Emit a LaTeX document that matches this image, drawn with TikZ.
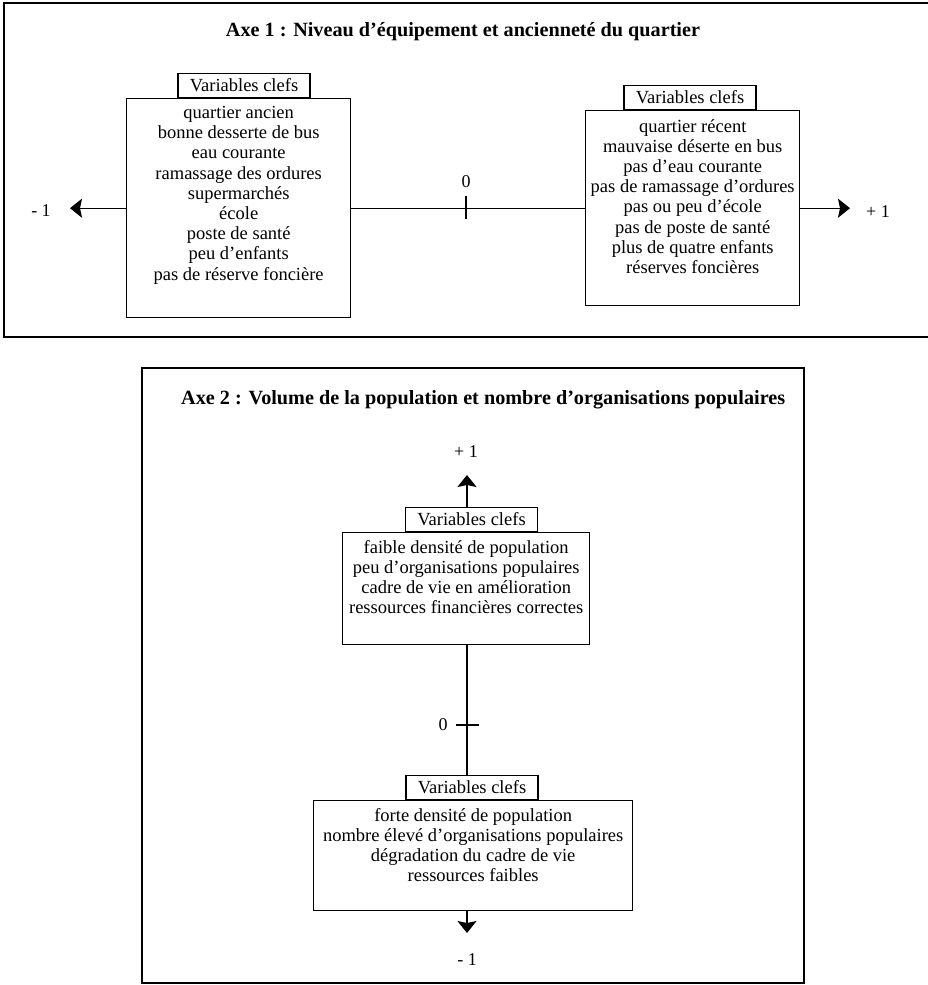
\documentclass[tikz,border=0pt]{standalone}
\usepackage{fontspec}
\setmainfont{Liberation Serif}
\usetikzlibrary{arrows.meta}
\begin{document}
\begin{tikzpicture}[x=1pt,y=-1pt,
  frame/.style={draw, line width=1.6pt},
  keybox/.style={draw, line width=1.4pt, inner sep=0pt},
  tagbox/.style={draw, line width=1.4pt, inner sep=0pt, minimum width=132pt, minimum height=24pt, font=\fontsize{18.5}{20.2}\selectfont},
  lines/.style={align=center, inner sep=0pt, font=\fontsize{18.5}{20.2}\selectfont},
  lbl/.style={inner sep=0pt, font=\fontsize{18}{20}\selectfont},
  axis/.style={line width=1.4pt},
  arr/.style={line width=1.4pt, -{Stealth[length=12pt,width=19pt,inset=2pt]}},
  title/.style={inner sep=0pt, font=\fontsize{20.2}{23}\selectfont\bfseries}
]
\useasboundingbox (0,0) rectangle (927,985);

% ---------- Axe 1 ----------
\draw[frame] (4,3) rectangle (945,337);
\node[title] (T1) at (463,32) {Axe 1 : Niveau d’équipement et ancienneté du quartier};

\node[keybox, minimum width=224pt, minimum height=219pt, anchor=north west] (L) at (126,98) {};
\node[tagbox, anchor=south] (Lk) at (244,98) {Variables clefs};
\node[lines, anchor=north] (Lt) at ([yshift=-8pt]L.north) {quartier ancien\\bonne desserte de bus\\eau courante\\ramassage des ordures\\supermarchés\\école\\poste de santé\\peu d’enfants\\pas de réserve foncière};

\node[keybox, minimum width=214pt, minimum height=195pt, anchor=north west] (R) at (585,110) {};
\node[tagbox, anchor=south] (Rk) at (690,110) {Variables clefs};
\node[lines, anchor=north] (Rt) at ([yshift=-9pt]R.north) {quartier récent\\mauvaise déserte en bus\\pas d’eau courante\\pas de ramassage d’ordures\\pas ou peu d’école\\pas de poste de santé\\plus de quatre enfants\\réserves foncières};

\coordinate (lt) at (70,0);
\coordinate (rt) at (850,0);
\coordinate (z) at (466,0);
\draw[arr] (L.west) -- (L.west -| lt);
\draw[axis] (L.east) -- (R.west);
\draw[arr] (R.east) -- (R.east -| rt);
\coordinate (t0) at (L.east -| z);
\draw[axis] ([yshift=12pt]t0) -- ([yshift=-11pt]t0);
\node[lbl] (zero1) at ([yshift=27pt]t0) {0};
\node[lbl] (m1) at (41,211) {- 1};
\node[lbl] (p1) at (878,212) {+ 1};

% ---------- Axe 2 ----------
\draw[frame] (142,368) rectangle (804,983);
\node[title, anchor=west] (T2) at (181,400) {Axe 2 : Volume de la population et nombre d’organisations populaires};

\node[keybox, minimum width=247pt, minimum height=112pt, anchor=north west] (U) at (342,532) {};
\node[tagbox, anchor=south] (Uk) at (471.5,532) {Variables clefs};
\node[lines, anchor=north] (Ut) at ([yshift=-8pt]U.north) {faible densité de population\\peu d’organisations populaires\\cadre de vie en amélioration\\ressources financières correctes};

\node[keybox, minimum width=319pt, minimum height=110pt, anchor=north west] (D) at (313,800) {};
\node[tagbox, anchor=south] (Dk) at (472,800) {Variables clefs};
\node[lines, anchor=north] (Dt) at ([yshift=-8pt]D.north) {forte densité de population\\nombre élevé d’organisations populaires\\dégradation du cadre de vie\\ressources faibles};

\coordinate (ut) at (467,475);
\coordinate (dt) at (467,933);
\draw[arr] (Uk.north -| ut) -- (ut);
\draw[axis] (U.south -| ut) -- (Dk.north -| ut);
\draw[arr] (D.south -| dt) -- (dt);
\coordinate (t1) at (467,725);
\draw[axis] ([xshift=-11pt]t1) -- ([xshift=12pt]t1);
\node[lbl] (zero2) at (443,725) {0};
\node[lbl] (p2) at (466,452) {+ 1};
\node[lbl] (m2) at (467,960) {- 1};
\end{tikzpicture}
\end{document}
